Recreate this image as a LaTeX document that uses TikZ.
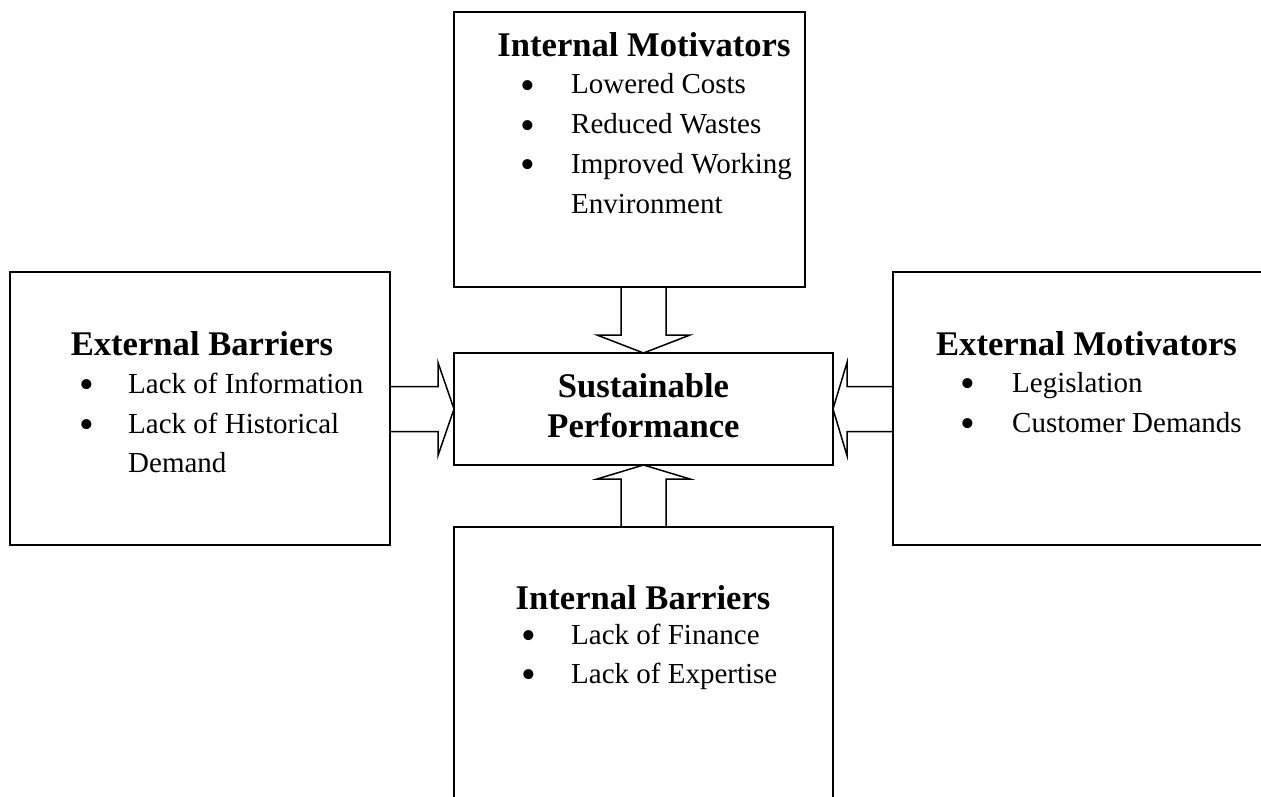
\documentclass[tikz,border=0pt]{standalone}
\usepackage{fontspec}
\setmainfont{Liberation Serif}
\usetikzlibrary{calc}
\tikzset{
  box/.style={draw, line width=1.5pt, minimum width=#1, outer sep=0pt, inner sep=0pt, anchor=north west},
  head/.style={font=\fontsize{34.6}{40}\bfseries\selectfont, anchor=base, inner sep=0pt},
  item/.style={font=\fontsize{29}{34}\selectfont, anchor=base west, inner sep=0pt},
  bul/.style={font=\fontsize{42}{46}\selectfont, anchor=base, inner sep=0pt, yshift=-5.5pt},
  blockarrow/.style={draw, line width=1.5pt, line join=miter}
}
\begin{document}
\begin{tikzpicture}[x=1pt,y=-1pt]
\useasboundingbox (0,0) rectangle (1261,796);
\fill[white] (0,0) rectangle (1261,796);
% boxes
\node[box=351pt, minimum height=275pt] (im) at (454,12) {};
\node[box=379pt, minimum height=112pt] (sp) at (454,353) {};
\node[box=380pt, minimum height=273pt] (eb) at (10,272) {};
\node[box=390pt, minimum height=273pt] (em) at (893,272) {};
\node[box=379pt, minimum height=290pt] (ib) at (454,527) {};
% block arrows
\draw[blockarrow] ($(im.south -| sp.north)+(-22.5,0)$)
  -- ($(sp.north)+(-22.5,-18)$) -- ($(sp.north)+(-46.5,-18)$) -- (sp.north)
  -- ($(sp.north)+(46.5,-18)$) -- ($(sp.north)+(22.5,-18)$)
  -- ($(im.south -| sp.north)+(22.5,0)$);
\draw[blockarrow] ($(ib.north)+(-22.5,0)$)
  -- ($(sp.south)+(-22.5,14)$) -- ($(sp.south)+(-46.5,14)$) -- (sp.south)
  -- ($(sp.south)+(46.5,14)$) -- ($(sp.south)+(22.5,14)$)
  -- ($(ib.north)+(22.5,0)$);
\draw[blockarrow] ($(eb.east |- sp.west)+(0,-22.5)$)
  -- ($(sp.west)+(-16,-22.5)$) -- ($(sp.west)+(-16,-46.5)$) -- (sp.west)
  -- ($(sp.west)+(-16,46.5)$) -- ($(sp.west)+(-16,22.5)$)
  -- ($(eb.east |- sp.west)+(0,22.5)$);
\draw[blockarrow] ($(em.west |- sp.east)+(0,-22.5)$)
  -- ($(sp.east)+(14,-22.5)$) -- ($(sp.east)+(14,-46.5)$) -- (sp.east)
  -- ($(sp.east)+(14,46.5)$) -- ($(sp.east)+(14,22.5)$)
  -- ($(em.west |- sp.east)+(0,22.5)$);
% centre text
\node[head] (sp1) at (643.5,397) {Sustainable};
\node[head] (sp2) at (643.5,437) {Performance};
% Internal Motivators
\node[head] (imh) at (644,56.5) {Internal Motivators};
\node[bul] (imb1) at (528,93.5) {•};
\node[item] (imt1) at (571,93.5) {Lowered Costs};
\node[bul] (imb2) at (528,133.5) {•};
\node[item] (imt2) at (571,133.5) {Reduced Wastes};
\node[bul] (imb3) at (528,173) {•};
\node[item] (imt3) at (571,173) {Improved Working};
\node[item] (imt4) at (571,213) {Environment};
% External Barriers
\node[head] (ebh) at (202,355) {External Barriers};
\node[bul] (ebb1) at (87,393) {•};
\node[item] (ebt1) at (128,393) {Lack of Information};
\node[bul] (ebb2) at (87,433) {•};
\node[item] (ebt2) at (128,433) {Lack of Historical};
\node[item] (ebt3) at (128,472) {Demand};
% External Motivators
\node[head] (emh) at (1086.5,355) {External Motivators};
\node[bul] (emb1) at (968,392) {•};
\node[item] (emt1) at (1012,392) {Legislation};
\node[bul] (emb2) at (968,432) {•};
\node[item] (emt2) at (1012,432) {Customer Demands};
% Internal Barriers
\node[head] (ibh) at (643,609) {Internal Barriers};
\node[bul] (ibb1) at (529,644) {•};
\node[item] (ibt1) at (571,644) {Lack of Finance};
\node[bul] (ibb2) at (529,683) {•};
\node[item] (ibt2) at (571,683) {Lack of Expertise};
\end{tikzpicture}
\end{document}
